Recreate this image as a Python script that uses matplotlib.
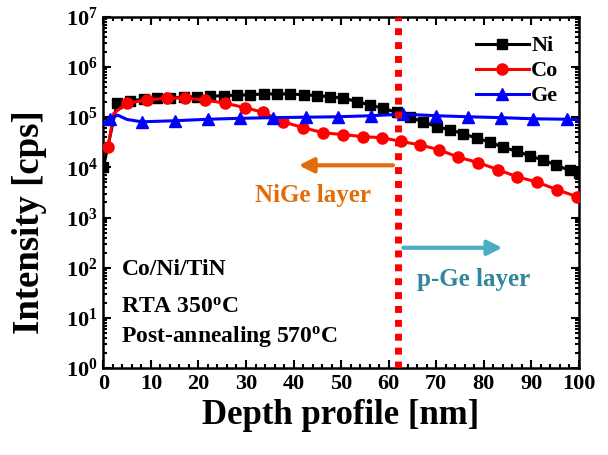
import matplotlib
matplotlib.use('Agg')
import matplotlib.pyplot as plt
from matplotlib.ticker import MultipleLocator, LogLocator, LogFormatterMathtext, NullFormatter

plt.rcParams['font.family'] = ['Liberation Serif', 'DejaVu Serif']
plt.rcParams['font.weight'] = 'bold'
plt.rcParams['axes.labelweight'] = 'bold'
plt.rcParams['mathtext.fontset'] = 'custom'
plt.rcParams['mathtext.rm'] = 'Liberation Serif:bold'
plt.rcParams['mathtext.bf'] = 'Liberation Serif:bold'
plt.rcParams['mathtext.it'] = 'Liberation Serif:bold:italic'

# Ni depth profile
ni_x = [0, 2.9, 5.7, 8.5, 11.3, 14.1, 16.9, 19.7, 22.5, 25.3, 28.1, 30.9, 33.7,
        36.5, 39.3, 42.1, 44.9, 47.7, 50.5, 53.3, 56.1, 58.9, 61.7, 64.5, 67.3,
        70.1, 72.9, 75.7, 78.5, 81.3, 84.1, 86.9, 89.7, 92.5, 95.3, 98.1, 100]
ni_y = [1.0e4, 1.9e5, 2.1e5, 2.3e5, 2.4e5, 2.45e5, 2.5e5, 2.55e5, 2.6e5, 2.7e5,
        2.75e5, 2.8e5, 2.9e5, 2.9e5, 2.9e5, 2.8e5, 2.7e5, 2.55e5, 2.4e5, 2.05e5,
        1.75e5, 1.5e5, 1.25e5, 1.0e5, 8.0e4, 6.5e4, 5.6e4, 4.7e4, 3.8e4, 3.2e4,
        2.5e4, 2.1e4, 1.7e4, 1.4e4, 1.1e4, 8.7e3, 7.8e3]

# Co depth profile
co_x = [1.0, 2.2, 5.0, 9.2, 13.4, 17.2, 21.4, 25.6, 29.8, 33.6, 37.8, 42.0, 46.2,
        50.4, 54.6, 58.6, 62.6, 66.6, 70.6, 74.6, 78.8, 83.0, 87.0, 91.2, 95.4, 99.6]
co_y = [2.6e4, 1.2e5, 1.9e5, 2.2e5, 2.4e5, 2.4e5, 2.2e5, 1.9e5, 1.55e5, 1.25e5,
        8.1e4, 6.2e4, 4.9e4, 4.5e4, 4.1e4, 3.9e4, 3.3e4, 2.8e4, 2.25e4, 1.6e4,
        1.25e4, 9.0e3, 6.5e3, 5.1e3, 3.6e3, 2.6e3]

# Ge depth profile
ge_x = [0, 1.5, 3.0, 5.0, 8.1, 15.1, 22.0, 28.8, 35.7, 42.6, 49.4, 56.3, 63.0,
        70.0, 76.7, 83.6, 90.3, 97.5, 100]
ge_y = [7.6e4, 9.3e4, 1.1e5, 9.0e4, 8.1e4, 8.5e4, 9.1e4, 9.5e4, 9.8e4, 1.0e5,
        1.02e5, 1.07e5, 1.15e5, 1.07e5, 1.02e5, 9.8e4, 9.3e4, 9.1e4, 8.9e4]

boundary = 62

fig = plt.figure(figsize=(6.08, 4.55), dpi=100)
ax = fig.add_axes([0.170, 0.191, 0.782, 0.772])

ax.plot(ni_x, ni_y, color='black', marker='s', ms=6.5, lw=2.2, label='Ni', zorder=3)
ax.plot(co_x, co_y, color='red', marker='o', ms=8, lw=2.2, label='Co',
        markevery=[0] + list(range(2, len(co_x))), zorder=4)
ax.plot(ge_x, ge_y, color='blue', marker='^', ms=8, lw=2.2, label='Ge',
        markevery=[1] + list(range(4, len(ge_x) - 1)), zorder=5)

ax.axvline(boundary, color='red', lw=5, linestyle=(0, (1, 1)), zorder=6)

ax.annotate('', xy=(40.5, 1.1e4), xytext=(61.5, 1.1e4),
            arrowprops=dict(arrowstyle='-|>', color='#E36C0A', lw=3, mutation_scale=22))
ax.annotate('', xy=(84.5, 2.5e2), xytext=(62.5, 2.5e2),
            arrowprops=dict(arrowstyle='-|>', color='#4BACC6', lw=3, mutation_scale=22))
ax.text(44.1, 2.8e3, 'NiGe layer', color='#E36C0A', fontsize=18, ha='center', va='center')
ax.text(77.9, 5.7e1, 'p-Ge layer', color='#31859C', fontsize=18, ha='center', va='center')

ax.text(3.8, 9.1e1, 'Co/Ni/TiN', fontsize=17, ha='left', va='center')
ax.text(3.8, 1.66e1, r'RTA 350$^{\mathrm{o}}$C', fontsize=17, ha='left', va='center')
ax.text(3.8, 4.3, r'Post-annealing 570$^{\mathrm{o}}$C', fontsize=17, ha='left', va='center')

ax.set_xlim(0, 100)
ax.set_yscale('log')
ax.set_ylim(1, 1e7)
ax.xaxis.set_major_locator(MultipleLocator(10))
ax.xaxis.set_minor_locator(MultipleLocator(2))
ax.yaxis.set_major_locator(LogLocator(base=10, numticks=10))
ax.yaxis.set_minor_locator(LogLocator(base=10, subs=range(2, 10), numticks=10))
ax.yaxis.set_major_formatter(LogFormatterMathtext())
ax.yaxis.set_minor_formatter(NullFormatter())

ax.tick_params(which='both', direction='in', top=True, right=True, width=1.5)
ax.tick_params(which='major', length=6, labelsize=16, pad=4)
ax.tick_params(which='minor', length=3)
for s in ax.spines.values():
    s.set_linewidth(1.8)

ax.set_xlabel('Depth profile [nm]', fontsize=25, fontweight='bold', labelpad=4)
ax.set_ylabel('Intensity [cps]', fontsize=26.5, fontweight='bold')
ax.yaxis.set_label_coords(-0.118, 0.415)

ax.legend(loc='upper right', bbox_to_anchor=(0.99, 0.99), frameon=False, fontsize=16,
          handlelength=2.4, handletextpad=0.1, labelspacing=0.2, borderaxespad=0.3)

fig.savefig('out.png', dpi=100)
